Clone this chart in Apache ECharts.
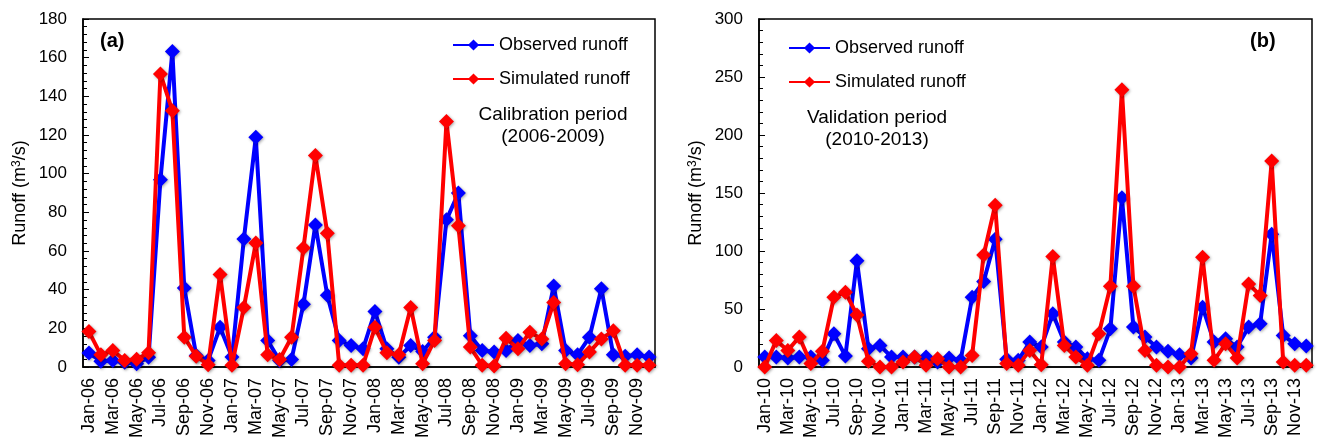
<!DOCTYPE html>
<html>
<head>
<meta charset="utf-8">
<script src="https://cdn.jsdelivr.net/npm/echarts@6/dist/echarts.min.js"></script>
<style>
  html, body { margin: 0; padding: 0; background: #fff; }
  #main { width: 1317px; height: 441px; }
</style>
</head>
<body>
<div id="main"></div>
<script>
// month labels
var monthNames = ['Jan', 'Feb', 'Mar', 'Apr', 'May', 'Jun', 'Jul', 'Aug', 'Sep', 'Oct', 'Nov', 'Dec'];
var yearsA = ['06', '07', '08', '09'];
var yearsB = ['10', '11', '12', '13'];

// panel (a) calibration 2006-2009
var observedA = [7.2, 3, 3.4, 2.5, 1.7, 5, 96.9, 163.2, 40.9, 6, 3.4, 20.5,
  5.1, 66.2, 118.8, 13.7, 3.4, 3.9, 32.5, 73.5, 37.1, 13.7, 11.1, 9.4,
  28.7, 9.4, 5, 11.1, 8, 15.4, 76.1, 90, 16.2, 8.5, 7.7, 8.5,
  13.7, 11.1, 12, 41.9, 8.5, 6.3, 15.4, 40.5, 6.3, 5.6, 6.3, 5.1];
var simulatedA = [18.3, 6.3, 8.5, 3.4, 4, 7.3, 151.6, 132.5, 15.4, 5.6, 1.2, 47.9,
  0.9, 30.8, 64.1, 6.3, 3.9, 15.4, 61.5, 109.4, 69.2, 0.9, 0.9, 0.9,
  20.5, 7.4, 6.3, 30.8, 1.7, 13.7, 127, 73, 10.3, 0.9, 0.5, 14.9,
  9.4, 18, 14.5, 33.3, 1.7, 1.2, 7.7, 14.5, 18.8, 0.9, 0.9, 0.9];

// panel (b) validation 2010-2013
var observedB = [8.6, 8.6, 7.7, 8.6, 8.6, 5.7, 28.6, 9.4, 91.6, 15.7, 18.6, 8.6,
  8.6, 8.6, 8.6, 4.3, 7.7, 5.7, 60.1, 73.6, 110.2, 6.6, 5.7, 21.5,
  17.2, 45.8, 21.5, 17.2, 7.2, 5.7, 32.9, 146, 34.4, 25.8, 17.2, 13.5,
  10.6, 7.7, 51.5, 21.5, 24.3, 17.2, 34.4, 37.2, 114.5, 27.2, 20, 18];
var simulatedB = [0, 22.9, 14.3, 25.8, 2.9, 13.5, 60.1, 64.4, 44.9, 4.9, 0, 0,
  4.3, 8.6, 1.4, 7.2, 0, 0, 10, 96.5, 139.4, 2.9, 1.4, 14.3,
  2, 95.3, 18.6, 8.6, 1.4, 28.6, 69.6, 239, 69.6, 14.3, 1.4, 0,
  0, 11.5, 94.5, 5.7, 20, 7.7, 71.6, 61.6, 177.5, 4.3, 1.4, 1.4];

function buildMonths(years) {
  var out = [];
  years.forEach(function (y) {
    monthNames.forEach(function (m) { out.push(m + '-' + y); });
  });
  return out;
}
var categoriesA = buildMonths(yearsA);
var categoriesB = buildMonths(yearsB);

var myChart = echarts.init(document.getElementById('main'));
var FONT = 'Liberation Sans, Arial, sans-serif';

function xAxisFor(idx, cats) {
  return {
    type: 'category', gridIndex: idx, data: cats, boundaryGap: true,
    axisLine: { lineStyle: { color: '#000', width: 1.5 } },
    axisTick: { show: false },
    axisLabel: { interval: 1, rotate: 90, color: '#000', fontSize: 18, fontFamily: FONT, margin: 11 }
  };
}
function yAxisFor(idx, max, interval) {
  return {
    type: 'value', gridIndex: idx, min: 0, max: max, interval: interval,
    name: 'Runoff (m{sup|3}/s)', nameLocation: 'middle', nameGap: 53,
    nameTextStyle: { color: '#000', fontSize: 18, fontFamily: FONT,
      rich: { sup: { fontSize: 12, verticalAlign: 'top', padding: [0, 0, 7, 0], fontFamily: FONT } } },
    axisLine: { show: true, lineStyle: { color: '#000', width: 1.5 } },
    axisTick: { show: true, inside: true, length: 6, lineStyle: { color: '#000' } },
    minorTick: { show: true, splitNumber: 5, length: 4, lineStyle: { color: '#000' } },
    splitLine: { show: false },
    axisLabel: { color: '#000', fontSize: 17, fontFamily: FONT, margin: 16 }
  };
}
function lineSeries(name, idx, data, color, z) {
  return {
    name: name, type: 'line', xAxisIndex: idx, yAxisIndex: idx, data: data, z: z,
    symbol: 'diamond', symbolSize: 15, showSymbol: true, showAllSymbol: true,
    lineStyle: { color: color, width: 4 },
    itemStyle: { color: color, shadowBlur: 3, shadowColor: 'rgba(0,0,0,0.35)', shadowOffsetX: 1, shadowOffsetY: 1 },
    animation: false
  };
}
var legendBase = {
  orient: 'vertical', itemWidth: 41, itemHeight: 14, itemGap: 16,
  textStyle: { color: '#000', fontSize: 18, fontFamily: FONT },
  data: ['Observed runoff', 'Simulated runoff']
};

var option = {
  backgroundColor: '#fff',
  animation: false,
  grid: [
    { left: 83, top: 19, width: 572, bottom: 73, show: true, borderColor: '#000', borderWidth: 1.5 },
    { left: 759, top: 19, width: 553, bottom: 73, show: true, borderColor: '#000', borderWidth: 1.5 }
  ],
  legend: [
    Object.assign({}, legendBase, { left: 447, top: 31 }),
    Object.assign({}, legendBase, { left: 783, top: 34 })
  ],
  xAxis: [xAxisFor(0, categoriesA), xAxisFor(1, categoriesB)],
  yAxis: [yAxisFor(0, 180, 20), yAxisFor(1, 300, 50)],
  series: [
    lineSeries('Observed runoff', 0, observedA, '#0000ff', 2),
    lineSeries('Simulated runoff', 0, simulatedA, '#ff0000', 3),
    lineSeries('Observed runoff', 1, observedB, '#0000ff', 2),
    lineSeries('Simulated runoff', 1, simulatedB, '#ff0000', 3)
  ],
  graphic: [
    { type: 'text', left: 100, top: 31, style: { text: '(a)', font: 'bold 20px ' + FONT, fill: '#000' } },
    { type: 'text', left: 1250, top: 31, style: { text: '(b)', font: 'bold 20px ' + FONT, fill: '#000' } },
    { type: 'text', x: 553, y: 104, style: { text: 'Calibration period\n(2006-2009)', textAlign: 'center',
      font: '19px ' + FONT, lineHeight: 22, fill: '#000' } },
    { type: 'text', x: 877, y: 107, style: { text: 'Validation period\n(2010-2013)', textAlign: 'center',
      font: '19px ' + FONT, lineHeight: 22, fill: '#000' } }
  ]
};
myChart.setOption(option);
</script>
</body>
</html>
